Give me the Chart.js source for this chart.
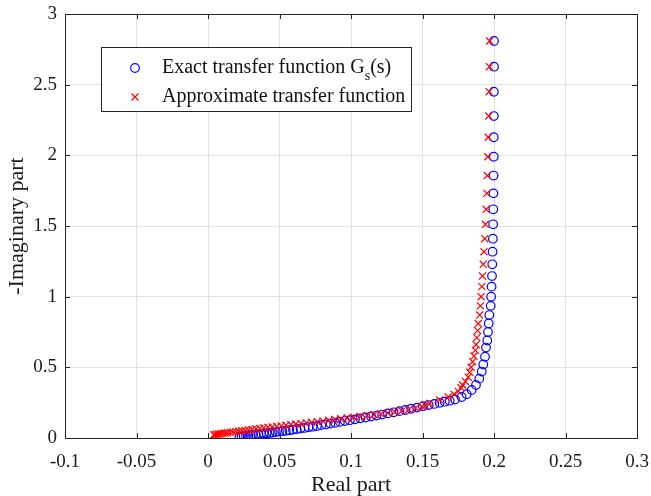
<!DOCTYPE html>
<html>
<head>
<meta charset="utf-8">
<script src="https://cdn.jsdelivr.net/npm/chart.js@4.4.1/dist/chart.umd.min.js"></script>
<style>
  html, body { margin: 0; padding: 0; background: #fff; }
  #wrap { width: 651px; height: 496px; position: relative; }
</style>
</head>
<body>
<div id="wrap"><canvas id="nyquist"></canvas></div>
<script>
// Exact transfer function Gs(s): real part / -imaginary part
const exactRe = [
  0.0220, 0.0235, 0.0250, 0.0266, 0.0282, 0.0299, 0.0316, 0.0334, 0.0352, 0.0371,
  0.0390, 0.0410, 0.0431, 0.0452, 0.0474, 0.0497, 0.0520, 0.0544, 0.0569, 0.0594,
  0.0620, 0.0647, 0.0675, 0.0703, 0.0732, 0.0762, 0.0793, 0.0824, 0.0856, 0.0889,
  0.0923, 0.0957, 0.0992, 0.1028, 0.1065, 0.1102, 0.1140, 0.1179, 0.1218, 0.1258,
  0.1298, 0.1339, 0.1380, 0.1421, 0.1462, 0.1503, 0.1543, 0.1582, 0.1620, 0.1656,
  0.1690, 0.1727, 0.1774, 0.1809, 0.1844, 0.1874, 0.1897, 0.1914, 0.1925, 0.1937,
  0.1944, 0.1953, 0.1958, 0.1963, 0.1967, 0.1977, 0.1980, 0.1983, 0.1986, 0.1988,
  0.1990, 0.1992, 0.1994, 0.1995, 0.1996, 0.1997, 0.1998, 0.1998, 0.1999, 0.1999,
  0.2000, 0.2000
];
const exactIm = [
  0.010, 0.012, 0.014, 0.016, 0.018, 0.020, 0.022, 0.024, 0.026, 0.028,
  0.031, 0.033, 0.036, 0.039, 0.042, 0.045, 0.048, 0.051, 0.055, 0.059,
  0.063, 0.067, 0.071, 0.076, 0.080, 0.085, 0.091, 0.096, 0.102, 0.108,
  0.114, 0.120, 0.126, 0.132, 0.139, 0.145, 0.152, 0.159, 0.166, 0.174,
  0.182, 0.190, 0.198, 0.207, 0.215, 0.225, 0.233, 0.241, 0.249, 0.257,
  0.264, 0.272, 0.290, 0.310, 0.340, 0.375, 0.420, 0.470, 0.520, 0.575,
  0.640, 0.690, 0.750, 0.810, 0.870, 0.935, 1.000, 1.071, 1.146, 1.229,
  1.318, 1.410, 1.512, 1.618, 1.731, 1.857, 1.990, 2.128, 2.278, 2.450,
  2.627, 2.809
];

// Approximate transfer function
const approxRe = [
  0.0040, 0.0050, 0.0062, 0.0075, 0.0089, 0.0104, 0.0120, 0.0137, 0.0155, 0.0174,
  0.0194, 0.0215, 0.0237, 0.0260, 0.0284, 0.0309, 0.0335, 0.0362, 0.0390, 0.0419,
  0.0449, 0.0480, 0.0512, 0.0545, 0.0579, 0.0614, 0.0650, 0.0687, 0.0725, 0.0764,
  0.0804, 0.0845, 0.0887, 0.0930, 0.0974, 0.1019, 0.1065, 0.1112, 0.1160, 0.1209,
  0.1258, 0.1307, 0.1356, 0.1404, 0.1451, 0.1497, 0.1520, 0.1550, 0.1620, 0.1680,
  0.1720, 0.1750, 0.1770, 0.1780, 0.1800, 0.1820, 0.1830, 0.1840, 0.1850, 0.1860,
  0.1870, 0.1875, 0.1880, 0.1885, 0.1890, 0.1900, 0.1905, 0.1910, 0.1915, 0.1920,
  0.1925, 0.1930, 0.1935, 0.1940, 0.1945, 0.1950, 0.1953, 0.1957, 0.1960, 0.1963,
  0.1966, 0.1968, 0.1970
];
const approxIm = [
  0.022, 0.024, 0.026, 0.028, 0.030, 0.033, 0.035, 0.037, 0.040, 0.042,
  0.045, 0.048, 0.051, 0.054, 0.057, 0.060, 0.064, 0.067, 0.071, 0.075,
  0.078, 0.082, 0.086, 0.090, 0.095, 0.099, 0.103, 0.107, 0.111, 0.116,
  0.120, 0.126, 0.131, 0.136, 0.142, 0.147, 0.153, 0.159, 0.165, 0.171,
  0.177, 0.184, 0.192, 0.201, 0.211, 0.222, 0.230, 0.245, 0.270, 0.290,
  0.310, 0.330, 0.355, 0.375, 0.400, 0.430, 0.465, 0.500, 0.540, 0.580,
  0.620, 0.660, 0.710, 0.760, 0.810, 0.870, 0.935, 1.000, 1.071, 1.146,
  1.229, 1.318, 1.410, 1.512, 1.618, 1.731, 1.857, 1.990, 2.128, 2.278,
  2.450, 2.627, 2.809
];

// Axis ticks and labels
const xTicks = [-0.1, -0.05, 0, 0.05, 0.1, 0.15, 0.2, 0.25, 0.3];
const yTicks = [0, 0.5, 1, 1.5, 2, 2.5, 3];
const xTitle = 'Real part';
const yTitle = '-Imaginary part';
const legendExact = ['Exact transfer function G', 's', '(s)'];
const legendApprox = 'Approximate transfer function';

const serif = '"Liberation Serif", "Times New Roman", serif';
const axisColor = '#262626';

function toPoints(xs, ys) {
    return xs.map((x, i) => ({ x: x, y: ys[i] }));
}

function fmt(v) {
    return String(Number(v.toFixed(2)));
}

// Box around the plot with inward tick marks on every side (MATLAB look)
const boxPlugin = {
    id: 'boxPlugin',
    afterDatasetsDraw(chart) {
        const { ctx, chartArea: a, scales } = chart;
        const len = 5;
        ctx.save();
        ctx.strokeStyle = axisColor;
        ctx.lineWidth = 1;
        ctx.beginPath();
        xTicks.forEach(t => {
            const px = Math.round(scales.x.getPixelForValue(t)) + 0.5;
            ctx.moveTo(px, a.bottom); ctx.lineTo(px, a.bottom - len);
            ctx.moveTo(px, a.top); ctx.lineTo(px, a.top + len);
        });
        yTicks.forEach(t => {
            const py = Math.round(scales.y.getPixelForValue(t)) + 0.5;
            ctx.moveTo(a.left, py); ctx.lineTo(a.left + len, py);
            ctx.moveTo(a.right, py); ctx.lineTo(a.right - len, py);
        });
        ctx.stroke();
        ctx.strokeRect(Math.round(a.left) + 0.5, Math.round(a.top) + 0.5,
            Math.round(a.right - a.left), Math.round(a.bottom - a.top));
        ctx.restore();
    },
    afterDraw(chart) {
        // legend box in the upper left of the plot
        const { ctx } = chart;
        const bx = 101, by = 47, bw = 310, bh = 64;
        ctx.save();
        ctx.fillStyle = '#fff';
        ctx.fillRect(bx, by, bw, bh);
        ctx.strokeStyle = axisColor;
        ctx.lineWidth = 1;
        ctx.strokeRect(bx + 0.5, by + 0.5, bw, bh);

        const mx = 135, row1 = 68, row2 = 97, tx = 162;
        ctx.strokeStyle = '#0000ff';
        ctx.lineWidth = 1.2;
        ctx.beginPath();
        ctx.arc(mx, row1, 4.3, 0, Math.PI * 2);
        ctx.stroke();
        ctx.strokeStyle = '#ff0000';
        ctx.beginPath();
        ctx.moveTo(mx - 3.5, row2 - 3.5); ctx.lineTo(mx + 3.5, row2 + 3.5);
        ctx.moveTo(mx + 3.5, row2 - 3.5); ctx.lineTo(mx - 3.5, row2 + 3.5);
        ctx.stroke();

        ctx.fillStyle = '#111';
        ctx.textBaseline = 'middle';
        ctx.textAlign = 'left';
        ctx.font = '20px ' + serif;
        ctx.fillText(legendExact[0], tx, row1);
        let w = ctx.measureText(legendExact[0]).width;
        ctx.font = '14px ' + serif;
        ctx.fillText(legendExact[1], tx + w, row1 + 8);
        w += ctx.measureText(legendExact[1]).width;
        ctx.font = '20px ' + serif;
        ctx.fillText(legendExact[2], tx + w, row1);
        ctx.fillText(legendApprox, tx, row2);
        ctx.restore();
    }
};

new Chart(document.getElementById('nyquist').getContext('2d'), {
    type: 'scatter',
    data: {
        datasets: [
            {
                label: 'Exact transfer function Gs(s)',
                data: toPoints(exactRe, exactIm),
                pointStyle: 'circle',
                pointRadius: 4.3,
                pointBorderWidth: 1.2,
                borderColor: '#0000ff',
                backgroundColor: 'rgba(0,0,0,0)',
                showLine: false,
                order: 1
            },
            {
                label: 'Approximate transfer function',
                data: toPoints(approxRe, approxIm),
                pointStyle: 'crossRot',
                pointRadius: 5,
                pointBorderWidth: 1.2,
                borderColor: '#ff0000',
                backgroundColor: '#ff0000',
                showLine: false,
                order: 0
            }
        ]
    },
    options: {
        responsive: true,
        maintainAspectRatio: false,
        animation: false,
        layout: {
            padding: { left: 0, right: 14, top: 14, bottom: 0 }
        },
        plugins: {
            legend: { display: false },
            tooltip: { enabled: false }
        },
        scales: {
            x: {
                type: 'linear',
                min: -0.1,
                max: 0.3,
                afterBuildTicks: scale => { scale.ticks = xTicks.map(v => ({ value: v })); },
                afterFit: scale => {
                    scale.height = 58;
                    scale.paddingLeft = 0;
                    scale.paddingRight = 0;
                },
                border: { display: false },
                grid: { color: '#e2e2e2', drawTicks: false },
                ticks: {
                    padding: 13,
                    color: '#1a1a1a',
                    font: { family: serif, size: 19 },
                    maxRotation: 0,
                    callback: v => fmt(v)
                },
                title: {
                    display: true,
                    text: xTitle,
                    color: '#1a1a1a',
                    font: { family: serif, size: 22 },
                    padding: { top: 0, bottom: -2 }
                }
            },
            y: {
                type: 'linear',
                min: 0,
                max: 3,
                afterBuildTicks: scale => { scale.ticks = yTicks.map(v => ({ value: v })); },
                afterFit: scale => {
                    scale.width = 65;
                    scale.paddingTop = 0;
                    scale.paddingBottom = 0;
                },
                border: { display: false },
                grid: { color: '#e2e2e2', drawTicks: false },
                ticks: {
                    padding: 8,
                    color: '#1a1a1a',
                    font: { family: serif, size: 19 },
                    callback: v => fmt(v)
                },
                title: {
                    display: true,
                    text: yTitle,
                    color: '#1a1a1a',
                    font: { family: serif, size: 22 },
                    padding: { top: 4, bottom: 0 }
                }
            }
        }
    },
    plugins: [boxPlugin]
});
</script>
</body>
</html>
